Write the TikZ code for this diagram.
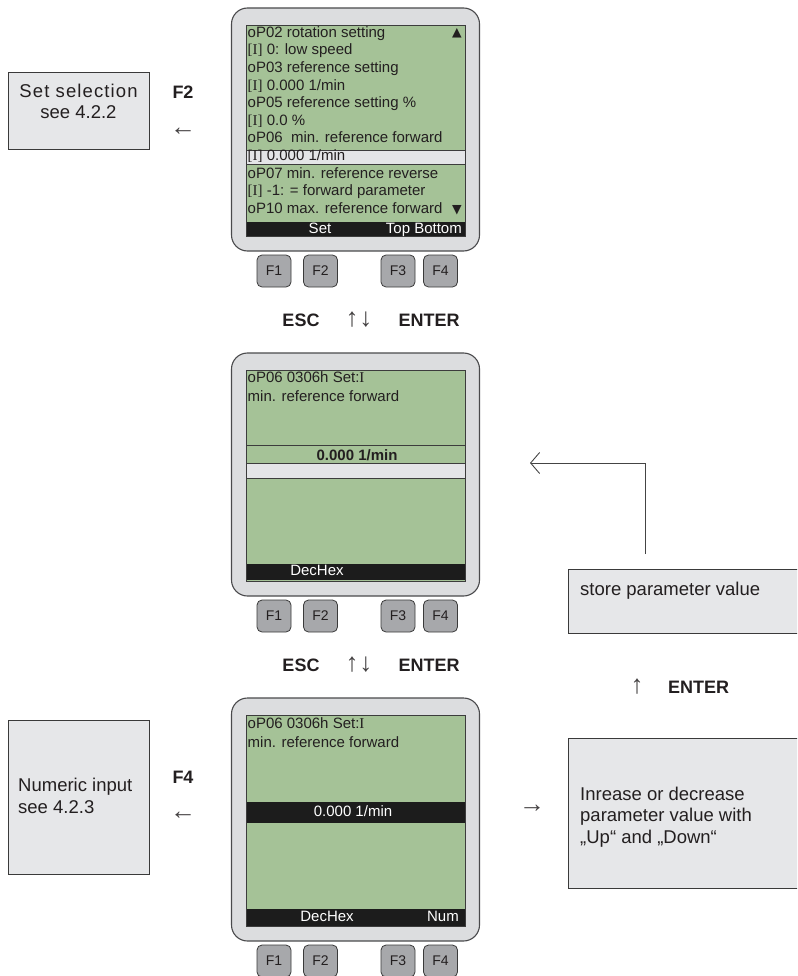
\documentclass[tikz,border=0pt]{standalone}
\usepackage{fontspec}
\setmainfont{Liberation Sans}
\newfontfamily\serfont{Liberation Serif}
\newfontfamily\symfont{DejaVu Sans}
\usetikzlibrary{arrows.meta}

\definecolor{devgrey}{HTML}{DCDDDF}
\definecolor{devline}{HTML}{4A4A4C}
\definecolor{lcdgreen}{HTML}{A5C297}
\definecolor{lcdline}{HTML}{3C3C3C}
\definecolor{barblack}{HTML}{1C1C1C}
\definecolor{hilite}{HTML}{E4E5E7}
\definecolor{keygrey}{HTML}{A7A8AB}
\definecolor{keyline}{HTML}{3A3A3A}
\definecolor{boxgrey}{HTML}{E6E7E9}
\definecolor{boxline}{HTML}{3A3A3A}
\definecolor{flowline}{HTML}{444444}
\definecolor{txt}{HTML}{231F20}

\newcommand{\brI}{{\serfont[I]}}
\newcommand{\capI}{{\serfont I}}

\begin{document}
\begin{tikzpicture}[x=1pt,y=-1pt,
    every node/.style={text=txt},
    frame/.style={draw=devline,fill=devgrey,line width=1.1pt,rounded corners=16pt},
    lcd/.style={fill=lcdgreen,draw=lcdline,line width=0.6pt},
    bar/.style={fill=barblack},
    hibox/.style={fill=hilite,draw=lcdline,line width=0.6pt},
    key/.style={draw=keyline,fill=keygrey,rounded corners=5pt,line width=0.8pt,
        minimum width=34pt,minimum height=32pt,inner sep=0pt,font=\fontsize{14}{16}\selectfont},
    lcdtxt/.style={anchor=west,inner sep=0pt,font=\fontsize{15}{17}\selectfont,
        text height=10.8pt,text depth=3pt},
    bartxt/.style={inner sep=0pt,text=white,font=\fontsize{15}{17}\selectfont,
        text height=10.8pt,text depth=3pt},
    tri/.style={inner sep=0pt,font=\symfont\fontsize{12.5}{14}\selectfont},
    keylabel/.style={inner sep=0pt,font=\bfseries\fontsize{18}{20}\selectfont},
    arr/.style={inner sep=0pt,text=txt!85,font=\fontsize{26}{28}\selectfont},
    sidebox/.style={draw=boxline,fill=boxgrey,line width=0.9pt,inner sep=0pt},
    sidetxt/.style={inner sep=0pt,align=left,font=\fontsize{18.5}{21.5}\selectfont},
    flow/.style={draw=flowline,line width=0.9pt,-{Straight Barb[length=9pt,width=21pt]}}]

    \useasboundingbox (0,0) rectangle (797,976);
    \clip (0,0) rectangle (797,976);

    \foreach \t/\d in {8/a,353/b,698/c}{
        \draw[frame] (231.5,\t) rectangle (479.5,\t+243);
        \draw[lcd] (246.5,\t+17) rectangle (465,\t+228);
        \foreach \k/\x in {1/274,2/320.5,3/398,4/440.5}
            \node[key] (\d F\k) at (\x,\t+263) {F\k};
    }

    \draw[hibox] (246.5,150) rectangle (465,164);
    \foreach \s [count=\i from 0] in {oP02 rotation setting, \brI{} 0: low speed,
            oP03 reference setting, \brI{} 0.000 1/min, oP05 reference setting \%,
            \brI{} 0.0 \%, oP06~ min. reference forward, \brI{} 0.000 1/min,
            oP07 min. reference reverse, \brI{} -1: = forward parameter,
            oP10 max. reference forward}
        \node[lcdtxt] (a\i) at (247.5,33.5+17.6*\i) {\s};
    \node[tri] (scrollup) at (457,33) {▲};
    \node[tri] (scrolldown) at (457,210) {▼};
    \fill[bar] (246.5,222) rectangle (465,236);
    \node[bartxt] (aset) at (320,229.5) {Set};
    \node[bartxt,anchor=east] (atop) at (462,229.5) {Top Bottom};

    \node[lcdtxt] (b0) at (247.5,379) {oP06 0306h Set:\capI};
    \node[lcdtxt] (b1) at (247.5,398) {min. reference forward};
    \draw[lcdline,line width=1pt] (246.5,445) -- (465,445);
    \node[inner sep=0pt,font=\bfseries\fontsize{15}{17}\selectfont] (bval) at (357,455.5) {0.000 1/min};
    \draw[hibox] (246.5,463) rectangle (465,478);
    \fill[bar] (246.5,564) rectangle (465,580);
    \node[bartxt] (bdec) at (317,572) {DecHex};

    \node[lcdtxt] (c0) at (247.5,725) {oP06 0306h Set:\capI};
    \node[lcdtxt] (c1) at (247.5,744) {min. reference forward};
    \fill[bar] (246.5,802) rectangle (465,823);
    \node[bartxt] (cval) at (353,812.5) {0.000 1/min};
    \fill[bar] (246.5,909) rectangle (465,926);
    \node[bartxt] (cdec) at (327,917.5) {DecHex};
    \node[bartxt,anchor=east] (cnum) at (459,917.5) {Num};

    \foreach \y [count=\n] in {320,665}{
        \node[keylabel] (esc\n) at (301,\y) {ESC};
        \node[arr] (updown\n) at (359,\y) {↑\kern1pt↓};
        \node[keylabel] (enter\n) at (429,\y) {ENTER};
    }

    \node[sidebox,minimum width=141pt,minimum height=77pt] (setsel) at (78.5,110.5) {};
    \node[sidetxt,align=center] (setseltxt) at (78.5,101.5)
        {\addfontfeature{LetterSpace=6}Set selection\\see 4.2.2};
    \node[keylabel] (keyf2) at (183,92) {F2};
    \node[arr] (leftf2) at (183,132) {←};

    \node[sidebox,minimum width=141pt,minimum height=154pt] (numin) at (78.5,797.5) {};
    \node[sidetxt,anchor=west] (numintxt) at (18,796) {Numeric input\\see 4.2.3};
    \node[keylabel] (keyf4) at (183,777) {F4};
    \node[arr] (leftf4) at (183,816) {←};

    \node[sidebox,anchor=north west,minimum width=240pt,minimum height=64pt] (store) at (568,569) {};
    \node[sidetxt,anchor=west] (storetxt) at (580,591) {store parameter value};
    \node[arr] (upstore) at (637,687) {↑};
    \node[keylabel,anchor=west] (enterstore) at (668,687) {ENTER};

    \node[sidebox,anchor=north west,minimum width=240pt,minimum height=150pt] (incdec) at (568,738) {};
    \node[sidetxt,anchor=west] (incdectxt) at (580,817)
        {Inrease or decrease\\parameter value with\\„Up“ and „Down“};
    \node[arr] (rightinc) at (532,809) {→};

    \coordinate (tail) at (645,554);
    \coordinate (tip) at (530,463);
    \draw[flow] (tail) |- (tip);
\end{tikzpicture}
\end{document}
